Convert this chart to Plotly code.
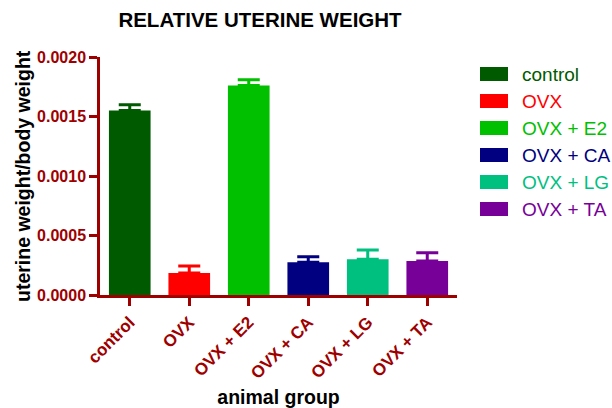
import plotly.graph_objects as go

groups = ["control", "OVX", "OVX + E2", "OVX + CA", "OVX + LG", "OVX + TA"]
means = [0.00155, 0.000185, 0.00176, 0.000275, 0.000300, 0.000286]
sem = [0.000048, 0.000059, 0.000048, 0.000047, 0.000078, 0.000070]
colors = ["#005a00", "#ff0000", "#00c000", "#000080", "#00c080", "#770099"]
yticks = [0.0, 0.0005, 0.0010, 0.0015, 0.0020]

AX = "#9e0000"
W, H = 612, 408
L, T = 100, 57
R = W - 457
B = H - 295

fig = go.Figure()
for g, m, s, c in zip(groups, means, sem, colors):
    fig.add_trace(go.Bar(
        x=[g], y=[m], name=g, marker=dict(color=c, line=dict(width=0)),
        width=0.7, showlegend=False,
        error_y=dict(type="data", array=[s], symmetric=False, arrayminus=[0],
                     color=c, thickness=3, width=11, visible=True),
    ))

# manual legend (pixel positions converted to paper coords)
pw, ph = W - L - R, H - T - B
def px2paper(x, y):
    return (x - L) / pw, 1 - (y - T) / ph

for i, (g, c) in enumerate(zip(groups, colors)):
    yc = 74 + 27 * i
    x0, y0 = px2paper(480, yc - 7)
    x1, y1 = px2paper(508, yc + 7)
    fig.add_shape(type="rect", xref="paper", yref="paper", x0=x0, x1=x1, y0=y1, y1=y0,
                  fillcolor=c, line=dict(width=0))
    tx, ty = px2paper(520, yc)
    fig.add_annotation(xref="paper", yref="paper", x=tx, y=ty, text=g, showarrow=False,
                       xanchor="left", yanchor="middle",
                       font=dict(family="Arial, Liberation Sans", size=19, color=c))

# y-axis title placed as annotation
ytx, yty = px2paper(23, 176)
fig.add_annotation(xref="paper", yref="paper", x=ytx, y=yty, text="<b>uterine weight/body weight</b>",
                   showarrow=False, textangle=-90, xanchor="center", yanchor="middle",
                   font=dict(family="Arial, Liberation Sans", size=19.5, color="black"))

fig.update_layout(
    width=W, height=H, margin=dict(l=L, r=R, t=T, b=B, autoexpand=False),
    paper_bgcolor="white", plot_bgcolor="white",
    barmode="overlay",
    title=dict(text="<b>RELATIVE UTERINE WEIGHT</b>", x=260 / W, xanchor="center",
               y=1 - 20 / H, yanchor="middle", yref="container",
               font=dict(family="Arial, Liberation Sans", size=20.5, color="black")),
    font=dict(family="Arial, Liberation Sans"),
)
fig.update_xaxes(
    range=[-0.5, 5.5], showline=True, linecolor=AX, linewidth=2.5,
    ticks="outside", ticklen=8, tickwidth=2.5, tickcolor=AX, tickangle=-45,
    tickfont=dict(family="Arial, Liberation Sans", size=17, color=AX, weight="bold"),
    title=dict(text="<b>animal group</b>", font=dict(size=19.5, color="black"), standoff=13),
    showgrid=False, zeroline=False, automargin=False,
)
fig.update_yaxes(
    range=[0, 0.002], tickvals=yticks, tickformat=".4f", ticksuffix="\u00a0",
    showline=True, linecolor=AX, linewidth=2.5,
    ticks="outside", ticklen=8, tickwidth=2.5, tickcolor=AX,
    tickfont=dict(family="Arial, Liberation Sans", size=16, color=AX, weight="bold"),
    showgrid=False, zeroline=False, automargin=False,
)

fig.write_html("out.html", config={"displayModeBar": False},
               post_script="document.body.style.margin='0';document.body.style.overflow='hidden';")
